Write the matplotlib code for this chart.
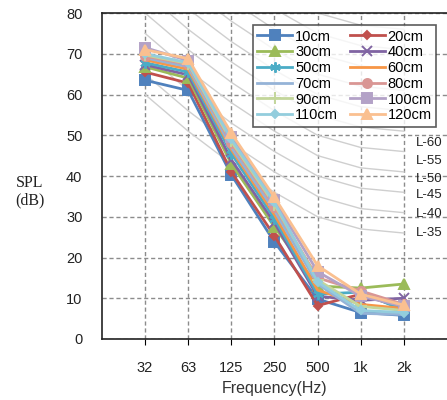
import matplotlib.pyplot as plt
import numpy as np

freqs = ['32', '63', '125', '250', '500', '1k', '2k']
series = ['10cm', '20cm', '30cm', '40cm', '50cm', '60cm',
          '70cm', '80cm', '90cm', '100cm', '110cm', '120cm']

spl = {
    '10cm':  [63.5, 61.0, 40.3, 23.8, 9.8, 6.5, 5.8],
    '20cm':  [65.5, 62.8, 41.0, 25.3, 8.2, 11.0, 7.5],
    '30cm':  [66.8, 64.0, 43.0, 27.5, 13.0, 12.5, 13.5],
    '40cm':  [67.3, 64.8, 44.0, 28.5, 10.5, 9.5, 10.0],
    '50cm':  [67.8, 65.5, 45.5, 29.5, 11.0, 11.5, 7.0],
    '60cm':  [68.5, 66.2, 46.5, 30.5, 12.0, 8.5, 7.5],
    '70cm':  [69.0, 66.8, 47.0, 31.5, 13.5, 6.3, 6.0],
    '80cm':  [69.4, 67.4, 48.0, 32.5, 15.0, 11.8, 8.5],
    '90cm':  [69.7, 67.6, 48.5, 33.0, 14.5, 8.0, 7.0],
    '100cm': [71.5, 68.3, 49.5, 34.0, 16.5, 10.5, 8.0],
    '110cm': [70.0, 67.8, 49.0, 33.5, 14.0, 7.0, 6.5],
    '120cm': [71.0, 68.8, 50.5, 34.8, 18.0, 11.0, 8.3],
}

colors = ['#4F81BD', '#C0504D', '#9BBB59', '#8064A2', '#4BACC6', '#F79646',
          '#95B3D7', '#D99694', '#C3D69B', '#B3A2C7', '#93CDDD', '#FAC090']
markers = ['s', 'D', '^', 'x', (6, 2, 0), None, None, 'o', '+', 's', 'D', '^']
msizes = [6.5, 4.5, 6.5, 6.5, 7.5, 0, 0, 6.5, 8, 6.5, 4.5, 6.5]

# L-curve (floor impact) reference lines: offset from the L value per band
l_values = [35, 40, 45, 50, 55, 60, 65, 70, 75, 80, 85, 90]
l_offset = [25, 16, 8, 1, -5, -8, -9]
l_labels = ['L-60', 'L-55', 'L-50', 'L-45', 'L-40', 'L-35']
l_label_y = [48.1, 43.7, 39.3, 35.3, 30.7, 26.0]

fig = plt.figure(figsize=(4.47, 4.0), dpi=100)
ax = fig.add_axes([0.228, 0.1525, 0.772, 0.815])

x = np.arange(len(freqs))

for L in l_values:
    ax.plot(x, [L + o for o in l_offset], color='#cfcfcf', lw=1.0, zorder=1)

handles = []
for i, s in enumerate(series):
    h, = ax.plot(x, spl[s], color=colors[i], lw=2.0, marker=markers[i],
                 markersize=msizes[i], markeredgewidth=1.4, label=s, zorder=3)
    handles.append(h)

for lab, yy in zip(l_labels, l_label_y):
    ax.text(6.28, yy, lab, fontsize=9.5, color='#222222', va='center',
            family='Liberation Sans', zorder=2)

ax.set_xlim(-1, 7)
ax.set_ylim(0, 80)
ax.set_xticks(x)
ax.set_xticklabels(freqs)
ax.set_yticks(np.arange(0, 81, 10))
ax.grid(True, color='#8c8c8c', linestyle=(0, (3, 2)), lw=1.0)
ax.set_axisbelow(True)
ax.tick_params(axis='y', length=0, pad=14, labelsize=10.5, labelcolor='#222222')
ax.tick_params(axis='x', length=4, direction='out', pad=12, labelsize=10.5,
               labelcolor='#222222')
for lbl in ax.get_xticklabels() + ax.get_yticklabels():
    lbl.set_family('Liberation Sans')
ax.spines['right'].set_visible(False)
for sp in ['left', 'bottom', 'top']:
    ax.spines[sp].set_color('#222222')
    ax.spines[sp].set_linewidth(1.2)

ax.set_xlabel('Frequency(Hz)', fontsize=11.5, family='Liberation Sans',
              color='#333333', labelpad=4)
fig.text(0.067, 0.52, 'SPL\n(dB)', fontsize=11.5, family='Liberation Serif',
         ha='center', va='center', color='#222222', linespacing=1.1)

# legend filled row by row, like the original
order = list(range(0, 12, 2)) + list(range(1, 12, 2))
leg = ax.legend([handles[k] for k in order], [series[k] for k in order],
                ncol=2, loc='upper right', bbox_to_anchor=(0.99, 0.985),
                frameon=True, fancybox=False, handlelength=2.4,
                columnspacing=0.8, handletextpad=0.2, labelspacing=0.12,
                borderpad=0.3, prop={'family': 'Liberation Sans', 'size': 10.5})
leg.get_frame().set_edgecolor('#333333')
leg.get_frame().set_linewidth(1.2)
leg.set_zorder(5)

fig.savefig('out.png', dpi=100)
